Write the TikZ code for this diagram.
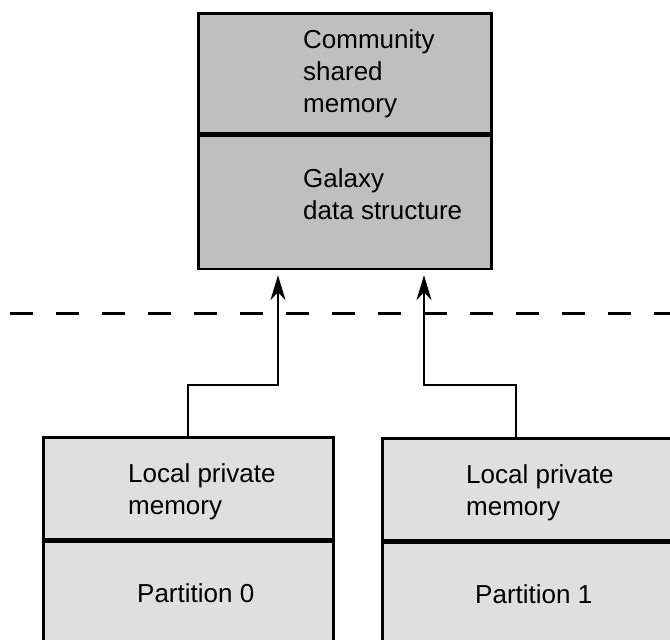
\documentclass[tikz,border=0pt]{standalone}
\usepackage{fontspec}
\setmainfont{Liberation Sans}
\usetikzlibrary{arrows.meta, positioning, calc}

\begin{document}
\begin{tikzpicture}[>={Stealth[length=25pt, width=15pt, inset=8pt]}, x=1pt, y=-1pt,
    box/.style={draw, line width=2.6pt, anchor=north west, inner sep=0pt},
    sharedbox/.style={box, fill=gray!50, minimum width=293},
    privbox/.style={box, fill=gray!25},
    txt/.style={anchor=base west, align=left, inner sep=0pt,
                font=\fontsize{26}{32}\selectfont},
    link/.style={line width=2pt, ->, shorten >=5pt}]
  \useasboundingbox (0,0) rectangle (670,640);

  % Community shared memory (text anchored on its last line)
  \node[sharedbox, minimum height=120] (comm) at (197,12) {};
  \node[sharedbox, minimum height=133, below=0pt of comm] (galaxy) {};
  \node[txt] (commtxt) at (303,112) {Community\\shared\\memory};
  \node[txt] (galaxytxt) at (303,219) {Galaxy\\data structure};

  % Local private memories
  \node[privbox, minimum width=290, minimum height=102] (lp0) at (42,436) {};
  \node[privbox, minimum width=290, minimum height=112, below=0pt of lp0] (part0) {};
  \node[privbox, minimum width=294, minimum height=102] (lp1) at (381,437) {};
  \node[privbox, minimum width=294, minimum height=112, below=0pt of lp1] (part1) {};
  \node[txt] (lp0txt) at (128,514) {Local private\\memory};
  \node[txt] (part0txt) at (137,602) {Partition 0};
  \node[txt] (lp1txt) at (466,515) {Local private\\memory};
  \node[txt] (part1txt) at (475,603) {Partition 1};

  % Boundary
  \draw[line width=3pt, dash pattern=on 23pt off 23pt] (10,313) -- (690,313);

  % Links
  \coordinate (in0) at ($(galaxy.south west)+(81,0)$);
  \coordinate (in1) at ($(galaxy.south west)+(227,0)$);
  \draw[link] (lp0.north) -- ++(0,-51) -| (in0);
  \draw[link] ([xshift=-13pt]lp1.north) -- ++(0,-52) -| (in1);
\end{tikzpicture}
\end{document}
